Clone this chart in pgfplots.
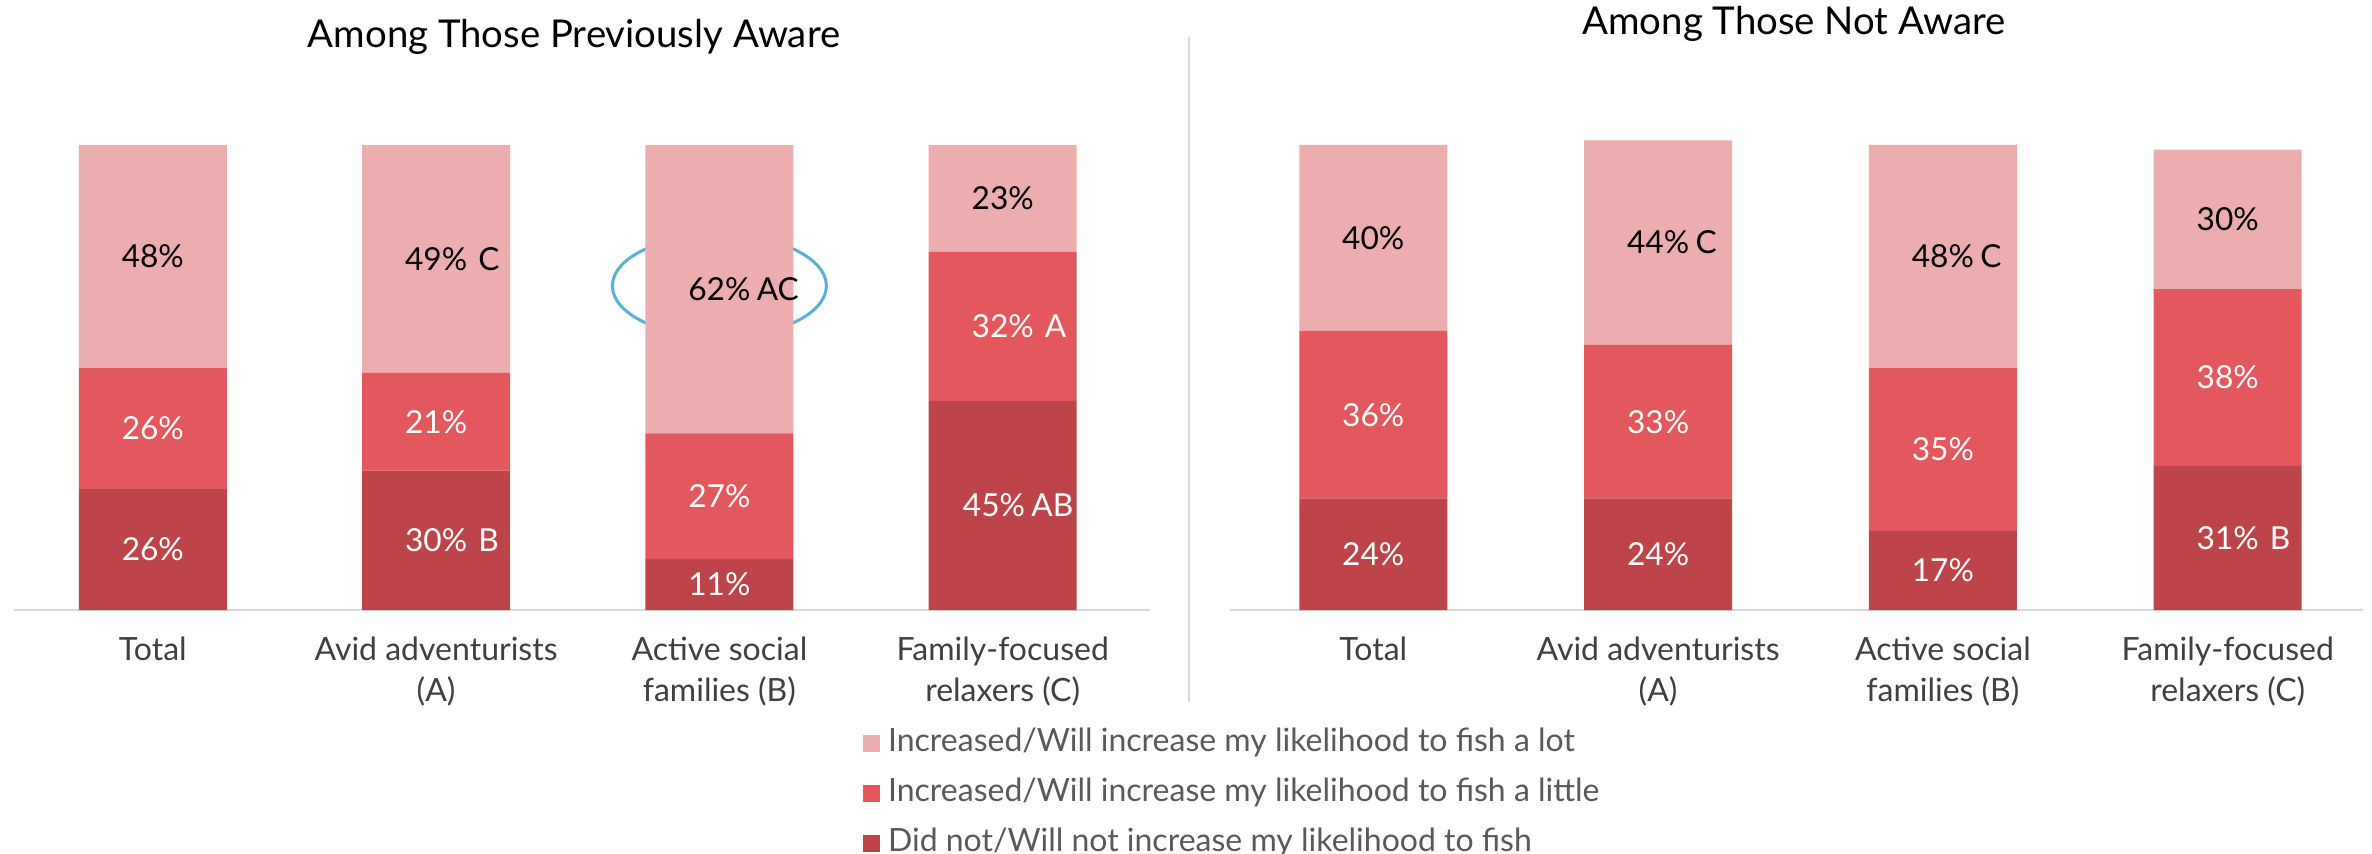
\documentclass[border=0pt]{standalone}
\usepackage{pgfplots}
\pgfplotsset{compat=1.18}
\usepackage{pgfplotstable}
\usepackage{fontspec}
\setmainfont{Lato}

\definecolor{cLot}{HTML}{ECADAE}
\definecolor{cLittle}{HTML}{E2585D}
\definecolor{cNot}{HTML}{BD454A}
\definecolor{axisgray}{HTML}{D9D9D9}
\definecolor{ticktext}{HTML}{404040}
\definecolor{legtext}{HTML}{595959}
\definecolor{ringblue}{HTML}{5AAFD6}

\protected\def\pc{\%}
\protected\def\suf#1{\rlap{\hspace{0.35em}#1}}
\protected\def\sufn#1{\rlap{\hspace{0.2em}#1}}
\protected\def\lft{\kern-0.55em}

\pgfplotstableread{
x not little lot notlab littlelab lotlab
0 26 26 48 {26\pc} {26\pc} {48\pc}
1 30 21 49 {30\pc\suf{B}} {21\pc} {49\pc\suf{C}}
2 11 27 62 {11\pc} {27\pc} {62\pc\sufn{AC}}
3 45 32 23 {\lft45\pc\sufn{AB}} {32\pc\suf{A}} {23\pc}
}\aware
\pgfplotstableread{
x not little lot notlab littlelab lotlab
0 24 36 40 {24\pc} {36\pc} {40\pc}
1 24 33 44 {24\pc} {33\pc} {44\pc\sufn{C}}
2 17 35 48 {17\pc} {35\pc} {48\pc\sufn{C}}
3 31 38 30 {31\pc\suf{B}} {38\pc} {30\pc}
}\notaware

\pgfplotsset{
  panel/.style={
    scale only axis, height=139.5pt,
    ymin=0, ymax=100,
    ybar stacked, bar width=44.4pt,
    axis x line*=bottom, axis y line=none,
    x axis line style={draw=axisgray, line width=0.8pt},
    xtick={0,1,2,3},
    major tick length=0pt,
    xticklabel style={align=center, anchor=north, inner sep=0pt, yshift=-8pt,
      font=\fontsize{9.6}{12.3}\selectfont, text=ticktext},
    xticklabels={Total, {Avid adventurists\\(A)}, {Active social\\families (B)}, {Family-focused\\relaxers (C)}},
    clip=false,
    point meta=explicit symbolic,
    nodes near coords={\pgfplotspointmeta},
    every node near coord/.append style={anchor=center, font=\fontsize{9.5}{12}\selectfont, inner sep=0pt},
    every axis title shift=0pt,
    title style={font=\fontsize{11.5}{13}\selectfont, anchor=base, text=black, inner sep=0pt},
  },
  segnot/.style={fill=cNot, draw=none, every node near coord/.append style={text=white}},
  seglittle/.style={fill=cLittle, draw=none, every node near coord/.append style={text=white}},
  seglot/.style={fill=cLot, draw=none, every node near coord/.append style={text=black}},
}

\begin{document}
\begin{tikzpicture}
\useasboundingbox (0,0) rectangle (711.6pt,-256.2pt);

\begin{axis}[panel, at={(4.2pt,-183pt)}, anchor=south west, width=340.8pt,
  xmin=-0.49, xmax=3.52,
  title={Among Those Previously Aware}, title style={at={(0.493,1.2086)}},
  reverse legend, legend cell align=left,
  legend style={at={(0.7474,-0.254)}, anchor=north west, draw=none, fill=none,
    inner sep=0pt, outer sep=0pt, font=\fontsize{9.6}{11}\selectfont, text=legtext,
    row sep=6pt, nodes={inner sep=0pt, text height=7pt, text depth=2pt},
    /tikz/every odd column/.append style={column sep=2.4pt}},
  legend image code/.code={\fill[#1] (0pt,-2.55pt) rectangle (5.1pt,2.55pt);},
]
\addplot[segnot] table[x=x, y=not, meta=notlab] {\aware};
\addlegendentry{Did not/Will not increase my likelihood to fish}
\addplot[seglittle] table[x=x, y=little, meta=littlelab] {\aware};
\addlegendentry{Increased/Will increase my likelihood to fish a little}
\addplot[seglot] table[x=x, y=lot, meta=lotlab] {\aware};
\addlegendentry{Increased/Will increase my likelihood to fish a lot}
\draw[ringblue, line width=0.9pt] (axis cs:2,69.7) ellipse [x radius=32.1pt, y radius=15.3pt];
\end{axis}

\begin{axis}[panel, at={(369pt,-183pt)}, anchor=south west, width=339.9pt,
  xmin=-0.503, xmax=3.475,
  title={Among Those Not Aware}, title style={at={(0.4978,1.2366)}},
]
\addplot[segnot] table[x=x, y=not, meta=notlab] {\notaware};
\addplot[seglittle] table[x=x, y=little, meta=littlelab] {\notaware};
\addplot[seglot] table[x=x, y=lot, meta=lotlab] {\notaware};
\end{axis}

\draw[axisgray, line width=0.7pt] (356.7pt,-11.1pt) -- (356.7pt,-210.6pt);
\end{tikzpicture}
\end{document}
